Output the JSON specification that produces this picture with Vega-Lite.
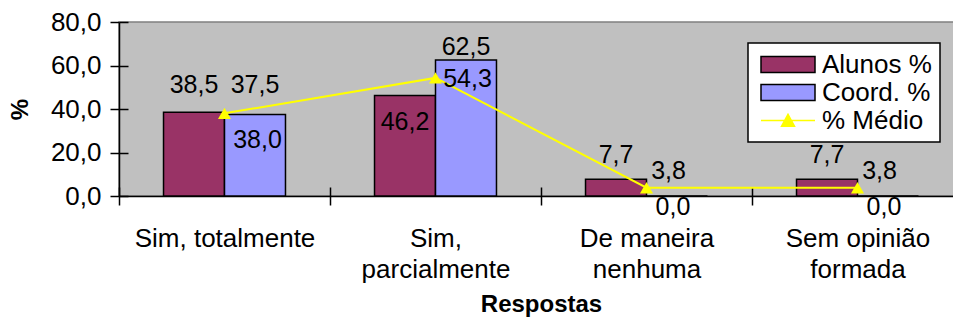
{
  "$schema": "https://vega.github.io/schema/vega-lite/v6.json",
  "width": 844,
  "height": 174,
  "autosize": {"type": "none"},
  "padding": {"left": 119, "top": 22, "right": 0, "bottom": 124},
  "background": "white",
  "config": {
    "font": "Liberation Sans",
    "locale": {"number": {"decimal": ",", "thousands": ".", "grouping": [3], "currency": ["", ""]}},
    "view": {"fill": "#C0C0C0", "stroke": "#808080", "strokeWidth": 1.5},
    "axis": {"domainColor": "black", "domainWidth": 1.5, "tickColor": "black", "tickWidth": 1.5, "labelColor": "black", "titleColor": "black"},
    "legend": {
      "title": null, "orient": "none", "legendX": 629, "legendY": 21,
      "fillColor": "white", "strokeColor": "black", "strokeWidth": 1.5, "padding": 8,
      "labelFontSize": 26, "labelColor": "black", "labelFont": "Liberation Sans", "labelLimit": 300,
      "symbolSize": 625, "rowPadding": 1, "labelOffset": 39, "symbolStrokeWidth": 1.5, "symbolOpacity": 1
    },
    "text": {"fontSize": 25, "color": "black", "baseline": "middle", "font": "Liberation Sans"}
  },
  "data": {
    "values": [
      {"cat": "Sim, totalmente", "serie": "Alunos %", "value": 38.5},
      {"cat": "Sim, parcialmente", "serie": "Alunos %", "value": 46.2},
      {"cat": "De maneira nenhuma", "serie": "Alunos %", "value": 7.7},
      {"cat": "Sem opinião formada", "serie": "Alunos %", "value": 7.7},
      {"cat": "Sim, totalmente", "serie": "Coord. %", "value": 37.5},
      {"cat": "Sim, parcialmente", "serie": "Coord. %", "value": 62.5},
      {"cat": "De maneira nenhuma", "serie": "Coord. %", "value": 0.0},
      {"cat": "Sem opinião formada", "serie": "Coord. %", "value": 0.0},
      {"cat": "Sim, totalmente", "serie": "% Médio", "value": 38.0},
      {"cat": "Sim, parcialmente", "serie": "% Médio", "value": 54.3},
      {"cat": "De maneira nenhuma", "serie": "% Médio", "value": 3.8},
      {"cat": "Sem opinião formada", "serie": "% Médio", "value": 3.8}
    ]
  },
  "resolve": {"axis": {"x": "independent", "y": "independent"}},
  "layer": [
    {
      "encoding": {
        "x": {
          "field": "cat", "type": "nominal",
          "sort": ["Sim, totalmente", "Sim, parcialmente", "De maneira nenhuma", "Sem opinião formada"],
          "scale": {"paddingInner": 0, "paddingOuter": 0},
          "axis": {
            "orient": "bottom",
            "title": "Respostas", "titleFontSize": 24, "titleFontWeight": "bold", "titlePadding": 10,
            "labelAngle": 0, "labelFontSize": 26, "labelLineHeight": 31, "labelBaseline": "top",
            "labelPadding": 20, "tickSize": 9, "tickBand": "extent", "labelLimit": 400,
            "labelExpr": "datum.label == 'Sim, totalmente' ? datum.label : [slice(datum.label, 0, lastindexof(datum.label, ' ')), slice(datum.label, lastindexof(datum.label, ' ') + 1)]"
          }
        },
        "y": {
          "field": "value", "type": "quantitative",
          "scale": {"domain": [0, 80]},
          "axis": {
            "orient": "left",
            "title": "%", "titleFontSize": 24, "titleFontWeight": "bold", "titlePadding": 18,
            "values": [0, 20, 40, 60, 80], "format": ".1f", "grid": false,
            "labelFontSize": 26, "tickSize": 9, "labelPadding": 9
          }
        }
      },
      "layer": [
        {
          "transform": [{"filter": "datum.serie !== '% Médio'"}],
          "mark": {"type": "bar", "stroke": "black", "strokeWidth": 1.5},
          "encoding": {
            "xOffset": {"field": "serie", "type": "nominal", "scale": {"domain": ["Alunos %", "Coord. %"], "paddingInner": 0, "paddingOuter": 0.73}},
            "fill": {
              "field": "serie", "type": "nominal",
              "scale": {"domain": ["Alunos %", "Coord. %", "% Médio"], "range": ["#993366", "#9999FF", "#FFFF00"]}
            }
          }
        },
        {
          "mark": {"type": "point", "opacity": 0, "filled": true},
          "encoding": {
            "fill": {"field": "serie", "type": "nominal"},
            "shape": {
              "field": "serie", "type": "nominal",
              "scale": {"domain": ["Alunos %", "Coord. %", "% Médio"], "range": ["M-0.68,-0.64H3.64V0.64H-0.68Z", "M-0.68,-0.64H3.64V0.64H-0.68Z", "M-0.68,0H3.64M0.96,0.46L1.48,-0.5L2.0,0.46Z"]}
            },
            "stroke": {
              "field": "serie", "type": "nominal",
              "scale": {"domain": ["Alunos %", "Coord. %", "% Médio"], "range": ["black", "black", "#FFFF00"]}
            }
          }
        },
        {
          "transform": [{"filter": "datum.serie === '% Médio'"}],
          "mark": {"type": "line", "color": "#FFFF00", "strokeWidth": 2},
          "encoding": {}
        },
        {
          "transform": [{"filter": "datum.serie === 'Alunos %' && datum.cat === 'Sim, totalmente'"}],
          "mark": {"type": "text", "dy": -27},
          "encoding": {"xOffset": {"field": "serie", "type": "nominal"}, "text": {"field": "value", "type": "quantitative", "format": ".1f"}}
        },
        {
          "transform": [{"filter": "datum.serie === 'Alunos %' && datum.value < 10"}],
          "mark": {"type": "text", "dy": -24},
          "encoding": {"xOffset": {"field": "serie", "type": "nominal"}, "text": {"field": "value", "type": "quantitative", "format": ".1f"}}
        },
        {
          "transform": [{"filter": "datum.serie === 'Alunos %' && datum.cat === 'Sim, parcialmente'"}],
          "mark": {"type": "text", "dy": 26},
          "encoding": {"xOffset": {"field": "serie", "type": "nominal"}, "text": {"field": "value", "type": "quantitative", "format": ".1f"}}
        },
        {
          "transform": [{"filter": "datum.serie === 'Coord. %' && datum.cat === 'Sim, totalmente'"}],
          "mark": {"type": "text", "dy": -29},
          "encoding": {"xOffset": {"field": "serie", "type": "nominal"}, "text": {"field": "value", "type": "quantitative", "format": ".1f"}}
        },
        {
          "transform": [{"filter": "datum.serie === 'Coord. %' && datum.cat === 'Sim, parcialmente'"}],
          "mark": {"type": "text", "dy": -13},
          "encoding": {"xOffset": {"field": "serie", "type": "nominal"}, "text": {"field": "value", "type": "quantitative", "format": ".1f"}}
        },
        {
          "transform": [{"filter": "datum.serie === 'Coord. %' && datum.value === 0"}],
          "mark": {"type": "text", "dy": 11, "dx": -4},
          "encoding": {"xOffset": {"field": "serie", "type": "nominal"}, "text": {"field": "value", "type": "quantitative", "format": ".1f"}}
        },
        {
          "transform": [{"filter": "datum.serie === '% Médio' && datum.cat === 'Sim, totalmente'"}],
          "mark": {"type": "text", "dx": 33, "dy": 27},
          "encoding": {"text": {"field": "value", "type": "quantitative", "format": ".1f"}}
        },
        {
          "transform": [{"filter": "datum.serie === '% Médio' && datum.cat === 'Sim, parcialmente'"}],
          "mark": {"type": "text", "dx": 32, "dy": 1},
          "encoding": {"text": {"field": "value", "type": "quantitative", "format": ".1f"}}
        },
        {
          "transform": [{"filter": "datum.serie === '% Médio' && datum.value < 10"}],
          "mark": {"type": "text", "dx": 22, "dy": -17},
          "encoding": {"text": {"field": "value", "type": "quantitative", "format": ".1f"}}
        }
      ]
    },
    {
      "transform": [{"filter": "datum.serie === '% Médio'"}],
      "mark": {"type": "point", "shape": "triangle-up", "filled": true, "color": "#FFFF00", "opacity": 1, "size": 170},
      "encoding": {
        "x": {
          "field": "cat", "type": "nominal",
          "sort": ["Sim, totalmente", "Sim, parcialmente", "De maneira nenhuma", "Sem opinião formada"],
          "axis": {"orient": "bottom", "title": null, "labels": false, "domain": false, "tickSize": 9, "offset": -9, "tickBand": "extent"}
        },
        "y": {
          "field": "value", "type": "quantitative",
          "axis": {"orient": "left", "title": null, "labels": false, "domain": false, "tickSize": 9, "offset": -9, "values": [0, 20, 40, 60, 80], "grid": false}
        }
      }
    }
  ]
}
